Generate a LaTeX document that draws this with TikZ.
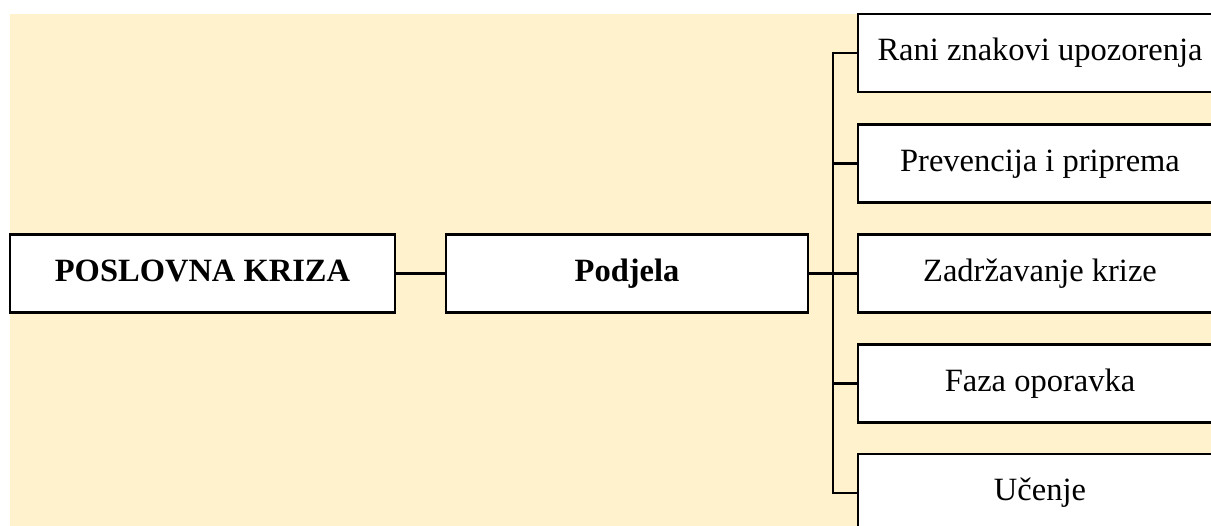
\documentclass[tikz,border=0pt]{standalone}
\usepackage{fontspec}
\setmainfont{Liberation Serif}
\definecolor{cream}{HTML}{FFF2CC}
\tikzset{
  box/.style={draw=black, line width=2.6pt, fill=white, minimum height=78pt, inner sep=0pt,
    font=\fontsize{32.5}{38}\selectfont, text height=22pt, text depth=6pt},
  link/.style={draw=black, line width=2.4pt},
}
\begin{document}
\begin{tikzpicture}[x=1pt,y=-1pt]
\useasboundingbox (0,0) rectangle (1211,526);
\clip (0,0) rectangle (1211,526);
\fill[cream] (10,14) rectangle (1211,526);
\node[box, minimum width=385pt] (pk) at (202.5,273.5) {\bfseries POSLOVNA KRIZA};
\node[box, minimum width=362pt] (pd) at (627,273.5) {\bfseries Podjela};
\node[box, minimum width=364pt] (r1) at (1040,53) {Rani znakovi upozorenja};
\node[box, minimum width=364pt] (r2) at (1040,163.5) {Prevencija i priprema};
\node[box, minimum width=364pt] (r3) at (1040,273.5) {Zadržavanje krize};
\node[box, minimum width=364pt] (r4) at (1040,383.5) {Faza oporavka};
\node[box, minimum width=364pt] (r5) at (1040,493) {Učenje};
\coordinate (spine) at (833,0);
\draw[link] (pk.east) -- (pd.west);
\draw[link] (pd.east) -- (r3.west);
\draw[link] (r1.west) -- (r1.west -| spine) -- (r5.west -| spine) -- (r5.west);
\draw[link] (r2.west) -- (r2.west -| spine);
\draw[link] (r4.west) -- (r4.west -| spine);
\end{tikzpicture}
\end{document}
